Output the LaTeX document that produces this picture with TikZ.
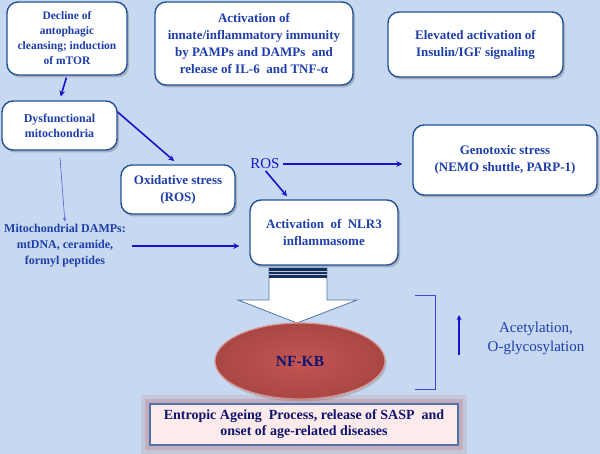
\documentclass[tikz,border=0pt]{standalone}
\usepackage{fontspec}
\setmainfont{Liberation Serif}
\usetikzlibrary{shapes.geometric,arrows,shadows,calc}

\definecolor{bgblue}{RGB}{198,217,241}
\definecolor{boxline}{RGB}{35,80,150}
\definecolor{boxtext}{RGB}{30,62,170}
\definecolor{arrowblue}{RGB}{20,20,200}
\definecolor{navy}{RGB}{15,20,110}
\definecolor{nfred}{RGB}{192,80,77}
\definecolor{pinkfill}{RGB}{253,234,234}

\begin{document}
\begin{tikzpicture}[x=1pt,y=-1pt,
  box/.style={draw=boxline,line width=1.4pt,fill=white,rounded corners=11pt,align=center,
    text=boxtext,font=\fontsize{13}{17}\selectfont\bfseries,inner sep=2pt,
    drop shadow={shadow xshift=2pt,shadow yshift=-2.5pt,opacity=.45}},
  small box/.style={box,font=\fontsize{11.5}{15}\selectfont\bfseries},
  arrow/.style={draw=arrowblue,line width=1.6pt,->,>=stealth},
  thin arrow/.style={draw=arrowblue!70,line width=.6pt,->,>=stealth},
  plain text/.style={align=center,text=boxtext,inner sep=1pt}]

  \fill[bgblue] (0,0) rectangle (600,454);
  \useasboundingbox (0,0) rectangle (600,454);

  % top row
  \node[small box,minimum width=120pt,minimum height=73pt] (decline) at (67,38.5)
    {Decline of\\antophagic\\cleansing; induction\\of mTOR};
  \node[box,minimum width=198pt,minimum height=83pt] (innate) at (254,43.5)
    {Activation of\\innate/inflammatory immunity\\by PAMPs and DAMPs\ \ and\\release of IL-6\ \ and TNF-α};
  \node[box,minimum width=175pt,minimum height=65pt] (insulin) at (475.5,44.5)
    {Elevated activation of\\Insulin/IGF signaling};

  % middle
  \node[small box,font=\fontsize{12}{15}\selectfont\bfseries,minimum width=115pt,minimum height=49pt] (dysf) at (59.5,125.5)
    {Dysfunctional\\mitochondria};
  \node[box,minimum width=114pt,minimum height=49pt] (ox) at (178,189.5)
    {Oxidative stress\\(ROS)};
  \node[box,minimum width=184pt,minimum height=70pt] (geno) at (505,160)
    {Genotoxic stress\\(NEMO shuttle, PARP-1)};
  \node[box,minimum width=148pt,minimum height=65pt] (nlr) at (324,232.5)
    {Activation\ \ of\ \ NLR3\\inflammasome};
  \node[plain text,font=\fontsize{15}{17}\selectfont,text=arrowblue!80!boxtext] (ros) at (265,164) {ROS};
  \node[plain text,font=\fontsize{12}{16}\selectfont\bfseries] (damps) at (65,246)
    {Mitochondrial DAMPs:\\mtDNA, ceramide,\\formyl peptides};

  % big arrow
  \draw[fill=white,draw=boxline!80,line width=.8pt]
    (269,268) -- (327,268) -- (327,300) -- (357,300) -- (297,323) -- (238,300) -- (269,300) -- cycle;
  \fill[boxline!60!black] (269,268) rectangle (327,278);
  \draw[white!70!boxline,line width=1pt] (269,271.5) -- (327,271.5) (269,275) -- (327,275);

  % NF-KB
  \node[ellipse,minimum width=170pt,minimum height=76pt,draw=nfred!60!white,line width=1.2pt,
    inner color=nfred!97!white,outer color=nfred!88!black,
    drop shadow={shadow xshift=1.5pt,shadow yshift=-2.5pt,opacity=.35},
    font=\fontsize{15.5}{17}\selectfont\bfseries,text=navy] (nfkb) at (300,361) {NF-KB};

  % bottom box
  \fill[nfred,opacity=.12] (141,395) rectangle (467,454);
  \fill[nfred,opacity=.22] (145,399) rectangle (463,450);
  \node[draw=boxline!80,line width=1.2pt,fill=pinkfill,minimum width=308pt,minimum height=41pt,
    align=center,font=\fontsize{14}{16}\selectfont\bfseries,text=navy] (entropic) at (304,424.5)
    {Entropic Ageing\ \ Process, release of SASP\ \ and\\onset of age-related diseases};

  % right side
  \draw[arrowblue!80,line width=.6pt] (415,295) -- (435,295) -- (435,389) -- (415,389);
  \coordinate (up start) at (459,355);
  \coordinate (up end) at (459,315);
  \node[plain text,font=\fontsize{15}{19}\selectfont,text=boxtext] (acet) at (536,338)
    {Acetylation,\\O-glycosylation};

  \path
    (decline.south) edge[arrow,shorten <=2pt,shorten >=4pt] (dysf.north)
    (dysf.13) edge[arrow,shorten >=5pt] (ox.north)
    (dysf.south) edge[thin arrow,shorten <=7pt,shorten >=2pt] (damps.north)
    (damps.east) edge[arrow,shorten <=5pt,shorten >=10pt] (damps.east -| nlr.west)
    (ros.east) edge[arrow,shorten <=2pt,shorten >=10pt] (ros.east -| geno.west)
    (ros.south) edge[arrow,shorten <=1pt,shorten >=4pt] (nlr.136)
    (up start) edge[arrow,line width=1.3pt] (up end);
\end{tikzpicture}
\end{document}
